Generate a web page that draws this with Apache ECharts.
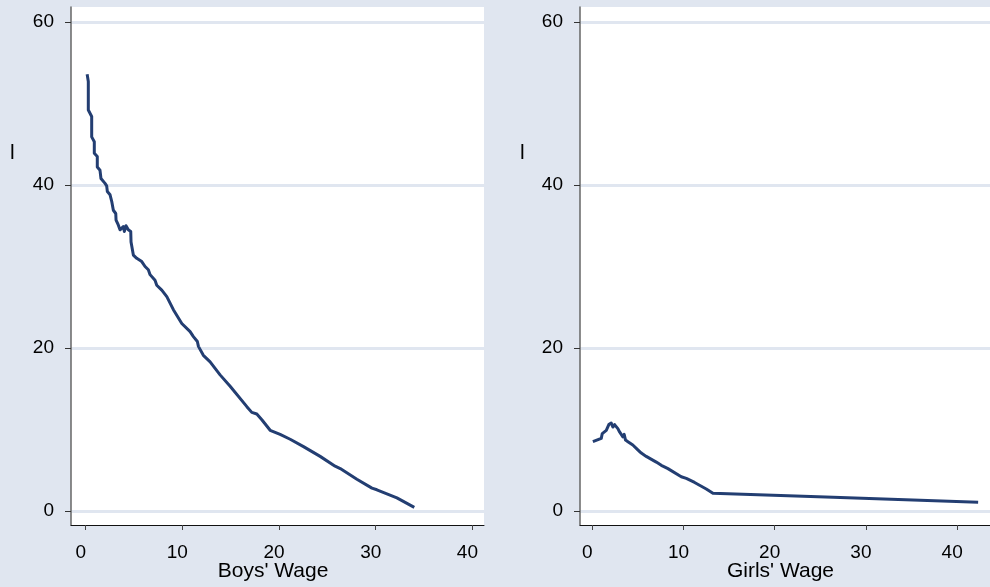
<!DOCTYPE html>
<html>
<head>
<meta charset="utf-8">
<script src="https://cdn.jsdelivr.net/npm/echarts@6/dist/echarts.min.js"></script>
<style>
html,body{margin:0;padding:0;background:#e0e6f0;}
#chart{width:990px;height:587px;}
</style>
</head>
<body>
<div id="chart"></div>
<script>
// Data
var boysWage = [0.15,0.27,0.27,0.62,0.62,0.89,0.89,1.20,1.20,1.48,1.58,2.00,2.17,2.24,2.52,2.69,2.86,3.11,3.14,3.37,3.55,3.89,4.00,4.17,4.41,4.59,4.66,4.69,4.93,5.28,5.80,6.14,6.48,6.66,7.17,7.35,7.87,8.39,9.07,9.94,10.80,11.14,11.55,11.66,12.17,12.87,13.90,14.94,16.67,17.18,17.70,18.22,19.08,20.11,21.15,22.53,24.25,25.80,26.33,28.05,29.61,30.12,32.19,33.99];
var boysL    = [53.6,52.7,49.2,48.4,45.9,45.3,43.9,43.5,42.2,41.8,40.8,40.2,39.9,39.2,38.8,38.0,36.9,36.5,35.7,35.1,34.5,34.9,34.3,35.0,34.5,34.7,34.3,33.0,31.4,31.0,30.6,30.0,29.6,29.0,28.3,27.7,27.1,26.3,24.7,23.0,22.0,21.4,20.8,20.2,19.1,18.3,16.7,15.3,12.8,12.1,11.9,11.2,9.9,9.4,8.8,7.9,6.7,5.5,5.2,3.9,2.8,2.6,1.6,0.45];
var girlsWage = [0.07,0.99,1.10,1.54,1.82,2.08,2.26,2.45,2.63,2.81,3.00,3.18,3.36,3.50,3.65,3.91,4.09,4.45,5.00,5.38,5.55,5.92,7.02,7.57,8.30,9.76,10.31,11.22,12.50,13.23,26.40,42.30];
var girlsL    = [8.5,8.9,9.5,9.9,10.6,10.8,10.3,10.6,10.8,10.1,9.7,9.5,9.1,9.4,8.7,8.5,8.7,8.1,7.5,7.1,7.3,6.7,6.0,5.6,5.2,4.2,4.0,3.5,2.7,2.17,1.68,1.07];
var xTicks = [0,10,20,30,40];
var yTicks = [0,20,40,60];
var xTitles = ["Boys' Wage","Girls' Wage"];
var yTitle = "l";

function pairs(xs, ys){ var out=[]; for(var i=0;i<xs.length;i++){ out.push([xs[i], ys[i]]); } return out; }

var FONT = 'Liberation Sans, Arial, sans-serif';
var BG = '#e0e6f0';
var LINE = '#233e72';

function xAxis(idx, min, max, name){
  return {
    type:'value', gridIndex:idx, min:min, max:max,
    name:name, nameLocation:'middle', nameGap:36, nameMoveOverlap:false,
    nameTextStyle:{fontFamily:FONT, fontSize:21, color:'#000', padding:[0,9,0,0]},
    axisLine:{show:true, onZero:false, lineStyle:{color:'#111', width:1}},
    axisTick:{show:true, length:5, customValues:xTicks, lineStyle:{color:'#444', width:1}},
    axisLabel:{customValues:xTicks, margin:18, fontFamily:FONT, fontSize:19, color:'#000', padding:[0,10,0,0]},
    splitLine:{show:false}
  };
}
function yAxis(idx){
  return {
    type:'value', gridIndex:idx, min:-1.72, max:61.84,
    axisLine:{show:true, onZero:false, lineStyle:{color:'#666', width:1.5}},
    axisTick:{show:true, length:6, customValues:yTicks, lineStyle:{color:'#333', width:1}},
    axisLabel:{customValues:yTicks, margin:17, fontFamily:FONT, fontSize:19, color:'#000'},
    splitLine:{show:true, lineStyle:{color:BG, width:3}}
  };
}

var chart = echarts.init(document.getElementById('chart'), null, {renderer:'canvas'});
chart.setOption({
  backgroundColor: BG,
  animation:false,
  grid:[
    {left:71, top:7, width:413, height:518, show:true, backgroundColor:'#fff', borderWidth:0, containLabel:false, outerBoundsMode:'none'},
    {left:580, top:7, width:410, height:518, show:true, backgroundColor:'#fff', borderWidth:0, containLabel:false, outerBoundsMode:'none'}
  ],
  xAxis:[ xAxis(0, -1.52, 41.2, xTitles[0]), xAxis(1, -1.34, 43.6, xTitles[1]) ],
  yAxis:[ yAxis(0), yAxis(1) ],
  graphic:[
    {type:'text', left:10, top:143, style:{text:yTitle, font:'21px '+FONT, fill:'#000'}},
    {type:'text', left:520, top:143, style:{text:yTitle, font:'21px '+FONT, fill:'#000'}}
  ],
  series:[
    {type:'line', xAxisIndex:0, yAxisIndex:0, data:pairs(boysWage, boysL), showSymbol:false, symbol:'none',
     lineStyle:{color:LINE, width:3, join:'round'}},
    {type:'line', xAxisIndex:1, yAxisIndex:1, data:pairs(girlsWage, girlsL), showSymbol:false, symbol:'none',
     lineStyle:{color:LINE, width:3, join:'round'}}
  ]
});
</script>
</body>
</html>
